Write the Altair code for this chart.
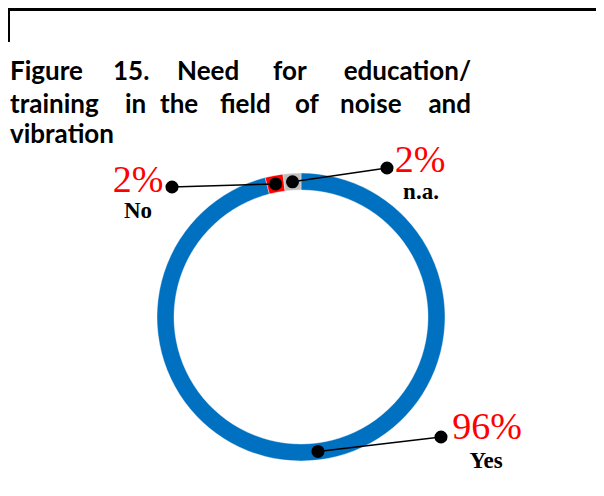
import math
import altair as alt
import pandas as pd

# ---- data ----
categories = ["Yes", "No", "n.a."]
values = [96, 2, 2]
pct_labels = ["96%", "2%", "2%"]
colors = ["#0070C0", "#FF0000", "#BFBFBF"]

title_lines = [
    ["Figure", "15.", "Need", "for", "education/"],
    ["training", "in", "the", "field", "of", "noise", "and"],
    ["vibration"],
]

# ---- layout (page pixels) ----
W, H = 588, 480
OFF = 8
CX, CY = 301, 317
R_OUT, R_IN = 144, 127
R_MID = (R_OUT + R_IN) / 2
anchor = {"Yes": (441, 437), "No": (172, 187), "n.a.": (387, 168)}
pct_pos = {"Yes": (487, 439), "No": (138, 192), "n.a.": (420, 172)}
name_pos = {"Yes": (486, 468), "No": (138, 218), "n.a.": (421, 199)}
title_x = [[10, 113, 177, 273, 471], [10, 125, 160, 220, 295, 340, 471], [10]]
title_base = [80, 113, 143]

total = sum(values)
rows = []
cum = 0
for i, (c, v, p) in enumerate(zip(categories, values, pct_labels)):
    mid = (cum + v / 2) / total * 2 * math.pi
    cum += v
    rx = CX + R_MID * math.sin(mid)
    ry = CY - R_MID * math.cos(mid)
    ax, ay = anchor[c]
    px, py = pct_pos[c]
    nx, ny = name_pos[c]
    rows.append(dict(cat=c, value=v, idx=i, pct=p,
                     rx=rx - OFF, ry=ry - OFF, ax=ax - OFF, ay=ay - OFF,
                     px=px - OFF, py=py - OFF, nx=nx - OFF, ny=ny - OFF))
df = pd.DataFrame(rows)

dots = pd.concat([
    df[["rx", "ry"]].rename(columns={"rx": "x", "ry": "y"}),
    df[["ax", "ay"]].rename(columns={"ax": "x", "ay": "y"}),
], ignore_index=True)

words = []
for li, (line, xs) in enumerate(zip(title_lines, title_x)):
    for wi, (w, x) in enumerate(zip(line, xs)):
        right = (wi == len(line) - 1) and len(line) > 1
        words.append(dict(w=w, x=x - OFF, y=title_base[li] - OFF, right=right))
wdf = pd.DataFrame(words)

xs = alt.Scale(domain=[0, W], range=[0, W], nice=False, zero=False)
ys = alt.Scale(domain=[0, H], range=[0, H], nice=False, zero=False)
X = lambda f: alt.X(f, type="quantitative", scale=xs, axis=None)
Y = lambda f: alt.Y(f, type="quantitative", scale=ys, axis=None)

base = alt.Chart(df)

arc = base.mark_arc(innerRadius=R_IN, outerRadius=R_OUT, stroke="white", strokeWidth=0.4).encode(
    theta=alt.Theta("value:Q", stack=True),
    order=alt.Order("idx:Q"),
    color=alt.Color("cat:N", scale=alt.Scale(domain=categories, range=colors), legend=None),
    x=alt.value(CX - OFF),
    y=alt.value(CY - OFF),
)

lines = base.mark_rule(color="black", strokeWidth=1.5).encode(
    x=X("rx"), y=Y("ry"), x2="ax", y2="ay"
)

dot = alt.Chart(dots).mark_circle(color="black", opacity=1, size=170).encode(
    x=X("x"), y=Y("y")
)

pct = base.mark_text(font="Liberation Serif", fontSize=38, color="#FF0000",
                     align="center", baseline="alphabetic").encode(
    x=X("px"), y=Y("py"), text="pct:N"
)

names = base.mark_text(font="Liberation Serif", fontSize=23, fontWeight="bold", color="black",
                       align="center", baseline="alphabetic").encode(
    x=X("nx"), y=Y("ny"), text="cat:N"
)

tl = alt.Chart(wdf).transform_filter("!datum.right").mark_text(
    font="Lato", fontSize=26, fontWeight="bold", color="black",
    align="left", baseline="alphabetic").encode(x=X("x"), y=Y("y"), text="w:N")
tr = alt.Chart(wdf).transform_filter("datum.right").mark_text(
    font="Lato", fontSize=26, fontWeight="bold", color="black",
    align="right", baseline="alphabetic").encode(x=X("x"), y=Y("y"), text="w:N")

top_border = alt.Chart(df).mark_rule(color="black", strokeWidth=3).encode(
    x=alt.value(0), x2=alt.value(W), y=alt.value(1.5))
left_border = alt.Chart(df).mark_rule(color="black", strokeWidth=2).encode(
    x=alt.value(1), y=alt.value(0), y2=alt.value(34))

chart = alt.layer(arc, lines, dot, pct, names, tl, tr, top_border, left_border).properties(
    width=W, height=H, padding=0,
    autosize=alt.AutoSizeParams(type="none"),
).configure_view(stroke=None)

chart.save("out.html", embed_options={"renderer": "svg", "actions": False})
